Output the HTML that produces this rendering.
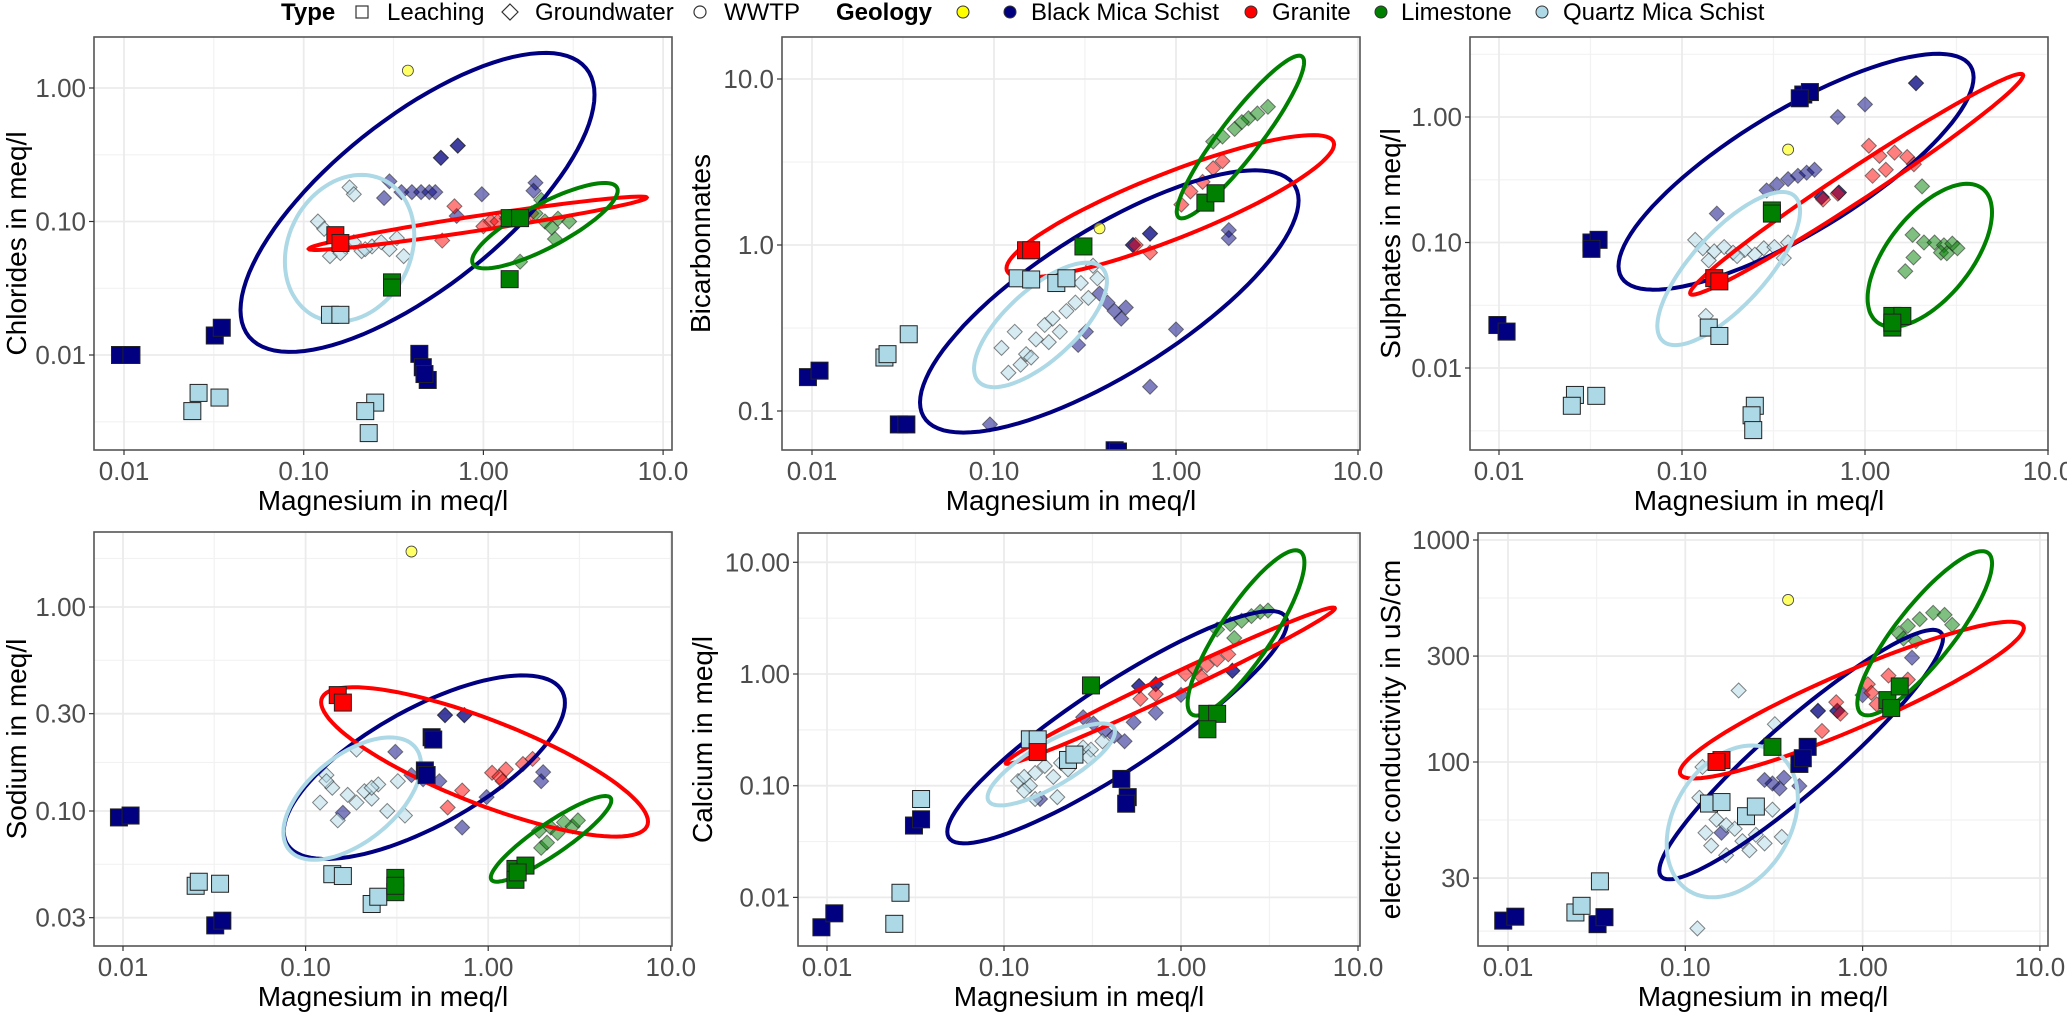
<!DOCTYPE html>
<html><head><meta charset="utf-8"><title>Magnesium scatter panels</title>
<style>
html,body{margin:0;padding:0;background:#fff;}
svg{display:block;font-family:"Liberation Sans",Arial,sans-serif;}
</style></head>
<body>
<svg id="chart" width="2067" height="1012" viewBox="0 0 2067 1012" xmlns="http://www.w3.org/2000/svg">
<rect x="0" y="0" width="2067" height="1012" fill="#fff"/>
<g id="legend" font-size="24" fill="#000">
  <text x="281" y="20" font-weight="bold">Type</text>
  <rect x="356" y="6" width="12" height="12" fill="none" stroke="#333" stroke-width="1.2"/>
  <text x="387" y="20">Leaching</text>
  <path d="M510 4 L518 12 L510 20 L502 12 Z" fill="none" stroke="#333" stroke-width="1.2"/>
  <text x="535" y="20">Groundwater</text>
  <circle cx="700" cy="12" r="6" fill="none" stroke="#333" stroke-width="1.2"/>
  <text x="724" y="20">WWTP</text>
  <text x="836" y="20" font-weight="bold">Geology</text>
  <circle cx="963" cy="12" r="6" fill="#ffff00" stroke="#333"/>
  <circle cx="1010" cy="12" r="6" fill="#000080" stroke="#333"/>
  <text x="1031" y="20">Black Mica Schist</text>
  <circle cx="1251" cy="12" r="6" fill="#ff0000" stroke="#333"/>
  <text x="1272" y="20">Granite</text>
  <circle cx="1381" cy="12" r="6" fill="#008000" stroke="#333"/>
  <text x="1401" y="20">Limestone</text>
  <circle cx="1542" cy="12" r="6" fill="#add8e6" stroke="#333"/>
  <text x="1563" y="20">Quartz Mica Schist</text>
</g>
<g id="panels"></g>
</svg>
<script>
// ---------- shared axis data ----------
const xTicks = [0.01, 0.1, 1, 10];
const xTickLabels = ["0.01", "0.10", "1.00", "10.0"];
const xMinor = [0.0316, 0.316, 3.16];
const ellGeo = ["B", "R", "G", "Q"];

// ---------- Panel 1: Chlorides ----------
const chlYTicks = [0.01, 0.1, 1];
const chlYLabels = ["0.01", "0.10", "1.00"];
const chlYMinor = [0.00316, 0.0316, 0.316];
const chlMg = [0.0095,0.011,0.032,0.035,0.44,0.46,0.49,0.47,
 0.14,0.16,0.026,0.024,0.034,0.25,0.22,0.23,
 0.15,0.16, 0.31,0.31,1.4,1.4,1.6, 0.38,
 0.58,0.58,0.72,0.72,0.35,0.40,0.45,0.50,0.54,0.30,0.28,0.98,0.71,1.95,1.9,
 0.12,0.13,0.15,0.17,0.19,0.21,0.24,0.27,0.30,0.33,0.36,0.14,0.16,0.22,0.18,0.19,
 1.1,1.2,1.35,0.69,0.59,1.85,1.0,
 1.95,2.2,2.6,3.0,2.5,1.6,2.1,2.4];
const chlVal = [0.010,0.010,0.014,0.016,0.0102,0.0081,0.0065,0.0072,
 0.020,0.020,0.0052,0.0038,0.0048,0.0044,0.0038,0.0026,
 0.079,0.069, 0.035,0.032,0.037,0.106,0.106, 1.35,
 0.30,0.30,0.37,0.37,0.166,0.166,0.166,0.166,0.166,0.20,0.15,0.16,0.11,0.195,0.17,
 0.10,0.088,0.075,0.065,0.07,0.06,0.065,0.07,0.062,0.075,0.055,0.055,0.058,0.062,0.18,0.16,
 0.10,0.10,0.105,0.13,0.072,0.115,0.092,
 0.115,0.10,0.105,0.10,0.074,0.05,0.145,0.09];
const chlGrp = ["LB","LB","LB","LB","LB","LB","LB","LB",
 "LQ","LQ","LQ","LQ","LQ","LQ","LQ","LQ",
 "LR","LR","LG","LG","LG","LG","LG","W",
 "GB","GB","GB","GB","GB","GB","GB","GB","GB","GB","GB","GB","GB","GB","GB",
 "GQ","GQ","GQ","GQ","GQ","GQ","GQ","GQ","GQ","GQ","GQ","GQ","GQ","GQ","GQ","GQ",
 "GR","GR","GR","GR","GR","GR","GR",
 "GG","GG","GG","GG","GG","GG","GG","GG"];
const chlEllCx = [0.43, 0.93, 2.2, 0.18];
const chlEllCy = [0.139, 0.097, 0.093, 0.063];
const chlEllSx = [0.985, 0.94, 0.405, 0.36];
const chlEllSy = [1.12, 0.2, 0.32, 0.55];
const chlEllRho = [0.72, 0.96, 0.82, 0.18];

// ---------- Panel 2: Bicarbonates ----------
const bicYTicks = [0.1, 1, 10];
const bicYLabels = ["0.1", "1.0", "10.0"];
const bicYMinor = [0.316, 3.16];
const bicMg = [0.0095,0.011,0.030,0.033,0.46,0.48,
 0.025,0.026,0.034,0.135,0.16,0.22,0.25,
 0.15,0.16, 0.31,1.45,1.65, 0.38,
 0.58,0.58,0.72,0.72,1.95,1.95,
 0.38,0.42,0.46,0.50,0.53,1.0,0.29,0.32,0.72,0.095,
 0.11,0.12,0.13,0.15,0.17,0.19,0.21,0.23,0.25,0.28,0.33,0.37,0.14,0.20,0.30,0.35,0.16,
 1.07,1.2,1.4,1.6,1.8,0.6,0.72,
 1.6,1.8,2.1,2.5,2.8,3.2,2.3];
const bicVal = [0.16,0.175,0.083,0.083,0.058,0.057,
 0.21,0.22,0.29,0.63,0.62,0.59,0.63,
 0.93,0.93, 0.98,1.8,2.05, 1.26,
 1.0,1.0,1.17,1.17,1.23,1.1,
 0.51,0.45,0.40,0.36,0.42,0.31,0.25,0.30,0.14,0.083,
 0.24,0.17,0.30,0.22,0.27,0.33,0.36,0.30,0.40,0.45,0.48,0.63,0.19,0.26,0.59,0.75,0.21,
 1.75,2.1,2.4,2.9,3.2,1.0,0.9,
 4.2,4.5,5.0,5.8,6.2,6.8,5.5];
const bicGrp = ["LB","LB","LB","LB","LB","LB",
 "LQ","LQ","LQ","LQ","LQ","LQ","LQ",
 "LR","LR","LG","LG","LG","W",
 "GB","GB","GB","GB","GB","GB",
 "GB","GB","GB","GB","GB","GB","GB","GB","GB","GB",
 "GQ","GQ","GQ","GQ","GQ","GQ","GQ","GQ","GQ","GQ","GQ","GQ","GQ","GQ","GQ","GQ","GQ",
 "GR","GR","GR","GR","GR","GR","GR",
 "GG","GG","GG","GG","GG","GG","GG"];
const bicEllCx = [0.43, 0.93, 2.26, 0.18];
const bicEllCy = [0.457, 1.71, 4.47, 0.33];
const bicEllSx = [1.04, 0.9, 0.35, 0.365];
const bicEllSy = [0.79, 0.429, 0.49, 0.375];
const bicEllRho = [0.77, 0.87, 0.92, 0.7];

// ---------- Panel 3: Sulphates ----------
const sulYTicks = [0.01, 0.1, 1];
const sulYLabels = ["0.01", "0.10", "1.00"];
const sulYMinor = [0.00316, 0.0316, 0.316, 3.16];
const sulMg = [0.46,0.50,0.44,0.032,0.035,0.032,0.0098,0.011,
 0.14,0.16,0.026,0.025,0.034,0.25,0.24,0.245,
 0.15,0.16, 0.31,0.31,1.41,1.6,1.41,1.41, 0.38,
 1.9,1.9,1.0,0.71,0.29,0.33,0.38,0.43,0.48,0.53,0.58,0.58,0.72,0.72,0.155,
 0.118,0.13,0.15,0.17,0.19,0.22,0.25,0.28,0.32,0.36,0.38,0.135,0.20,0.14,
 1.05,1.2,1.45,1.7,1.85,1.1,1.3,0.59,0.71,
 2.05,1.82,2.1,2.4,2.7,3.0,3.2,2.6,2.8,1.84,1.66];
const sulVal = [1.51,1.58,1.41,0.10,0.105,0.089,0.022,0.0195,
 0.021,0.018,0.0061,0.0050,0.0060,0.0050,0.0042,0.0032,
 0.052,0.049, 0.18,0.17,0.026,0.026,0.021,0.023, 0.55,
 1.86,1.86,1.26,1.0,0.26,0.29,0.32,0.34,0.36,0.38,0.23,0.23,0.25,0.25,0.17,
 0.105,0.09,0.085,0.092,0.083,0.087,0.08,0.09,0.092,0.075,0.1,0.026,0.078,0.072,
 0.59,0.49,0.52,0.48,0.42,0.34,0.38,0.22,0.245,
 0.28,0.115,0.10,0.10,0.095,0.098,0.09,0.083,0.082,0.076,0.059];
const sulGrp = ["LB","LB","LB","LB","LB","LB","LB","LB",
 "LQ","LQ","LQ","LQ","LQ","LQ","LQ","LQ",
 "LR","LR","LG","LG","LG","LG","LG","LG","W",
 "GB","GB","GB","GB","GB","GB","GB","GB","GB","GB","GB","GB","GB","GB","GB",
 "GQ","GQ","GQ","GQ","GQ","GQ","GQ","GQ","GQ","GQ","GQ","GQ","GQ","GQ",
 "GR","GR","GR","GR","GR","GR","GR","GR","GR",
 "GG","GG","GG","GG","GG","GG","GG","GG","GG","GG","GG"];
const sulEllCx = [0.42, 0.90, 2.26, 0.18];
const sulEllCy = [0.366, 0.291, 0.079, 0.062];
const sulEllSx = [0.97, 0.91, 0.34, 0.39];
const sulEllSy = [0.94, 0.88, 0.57, 0.61];
const sulEllRho = [0.8, 0.985, 0.6, 0.75];

// ---------- Panel 4: Sodium ----------
const naYTicks = [0.03, 0.1, 0.3, 1];
const naYLabels = ["0.03", "0.10", "0.30", "1.00"];
const naYMinor = [0.0548, 0.173, 0.548, 1.73];
const naMg = [0.0095,0.011,0.032,0.035,0.49,0.50,0.45,0.46,
 0.025,0.026,0.034,0.14,0.16,0.23,0.25,
 0.15,0.16, 0.31,0.31,0.31,1.41,1.6,1.41,1.45, 0.38,
 0.58,0.58,0.74,0.74,
 0.31,0.38,0.44,0.54,0.98,0.72,2.0,1.95,0.16,
 0.12,0.13,0.14,0.15,0.17,0.19,0.21,0.23,0.25,0.28,0.32,0.35,0.19,0.23,0.13,
 1.05,1.15,1.25,1.55,1.75,0.72,0.6,1.2,
 1.9,2.2,2.6,2.9,3.1,2.4,1.95,2.1];
const naVal = [0.093,0.095,0.0275,0.029,0.23,0.224,0.158,0.15,
 0.043,0.045,0.044,0.049,0.048,0.035,0.038,
 0.37,0.34, 0.047,0.04,0.043,0.052,0.054,0.046,0.05, 1.87,
 0.295,0.295,0.295,0.295,
 0.195,0.15,0.143,0.14,0.117,0.083,0.155,0.14,0.098,
 0.11,0.15,0.13,0.09,0.12,0.11,0.125,0.115,0.135,0.1,0.14,0.095,0.20,0.13,0.14,
 0.154,0.147,0.16,0.17,0.18,0.126,0.104,0.14,
 0.08,0.083,0.088,0.084,0.09,0.078,0.066,0.07];
const naGrp = ["LB","LB","LB","LB","LB","LB","LB","LB",
 "LQ","LQ","LQ","LQ","LQ","LQ","LQ",
 "LR","LR","LG","LG","LG","LG","LG","LG","LG","W",
 "GB","GB","GB","GB",
 "GB","GB","GB","GB","GB","GB","GB","GB","GB",
 "GQ","GQ","GQ","GQ","GQ","GQ","GQ","GQ","GQ","GQ","GQ","GQ","GQ","GQ","GQ",
 "GR","GR","GR","GR","GR","GR","GR","GR",
 "GG","GG","GG","GG","GG","GG","GG","GG"];
const naEllCx = [0.447, 0.955, 2.21, 0.18];
const naEllCy = [0.164, 0.174, 0.073, 0.115];
const naEllSx = [0.77, 0.895, 0.33, 0.377];
const naEllSy = [0.45, 0.366, 0.21, 0.30];
const naEllRho = [0.7, -0.8, 0.9, 0.55];

// ---------- Panel 5: Calcium ----------
const caYTicks = [0.01, 0.1, 1, 10];
const caYLabels = ["0.01", "0.10", "1.00", "10.00"];
const caYMinor = [0.0316, 0.316, 3.16];
const caMg = [0.0093,0.011,0.031,0.034,0.46,0.50,0.49,
 0.034,0.026,0.024,0.14,0.155,0.23,0.25,
 0.155, 0.31,1.41,1.6,1.41,
 0.58,0.58,0.72,0.72,1.95,1.95,0.28,0.32,0.37,0.42,0.48,0.54,1.0,0.72,0.16,
 0.12,0.13,0.14,0.15,0.17,0.19,0.21,0.23,0.25,0.28,0.31,0.36,0.2,0.15,0.3,0.13,
 1.06,1.2,1.4,1.6,1.85,0.59,0.72,1.3,
 1.6,1.9,2.2,2.5,2.8,3.1,2.0];
const caVal = [0.0054,0.0072,0.044,0.05,0.115,0.079,0.069,
 0.076,0.011,0.0058,0.26,0.26,0.17,0.19,
 0.20, 0.79,0.44,0.44,0.32,
 0.78,0.78,0.81,0.81,1.07,1.07,0.41,0.36,0.31,0.28,0.25,0.37,0.65,0.45,0.076,
 0.11,0.12,0.10,0.13,0.15,0.12,0.16,0.14,0.19,0.22,0.21,0.25,0.079,0.076,0.18,0.09,
 1.0,1.1,1.2,1.35,1.5,0.6,0.66,0.95,
 2.5,2.8,3.0,3.3,3.6,3.7,2.1];
const caGrp = ["LB","LB","LB","LB","LB","LB","LB",
 "LQ","LQ","LQ","LQ","LQ","LQ","LQ",
 "LR","LG","LG","LG","LG",
 "GB","GB","GB","GB","GB","GB","GB","GB","GB","GB","GB","GB","GB","GB","GB",
 "GQ","GQ","GQ","GQ","GQ","GQ","GQ","GQ","GQ","GQ","GQ","GQ","GQ","GQ","GQ","GQ",
 "GR","GR","GR","GR","GR","GR","GR","GR",
 "GG","GG","GG","GG","GG","GG","GG"];
const caEllCx = [0.436, 0.87, 2.33, 0.185];
const caEllCy = [0.334, 0.785, 2.33, 0.155];
const caEllSx = [0.96, 0.93, 0.33, 0.36];
const caEllSy = [1.04, 0.70, 0.74, 0.367];
const caEllRho = [0.9, 0.99, 0.85, 0.8];

// ---------- Panel 6: Electric conductivity ----------
const ecYTicks = [30, 100, 300, 1000];
const ecYLabels = ["30", "100", "300", "1000"];
const ecYMinor = [17.3, 54.8, 173, 548];
const ecMg = [0.0094,0.011,0.032,0.035,0.49,0.44,0.46,
 0.033,0.024,0.026,0.136,0.16,0.22,0.25,
 0.16,0.15, 0.31,1.38,1.62,1.45, 0.38,
 0.56,0.56,0.72,0.72,
 0.28,0.31,0.34,0.36,1.9,1.0,0.16,0.44,
 0.12,0.13,0.14,0.15,0.17,0.19,0.21,0.23,0.25,0.28,0.31,0.35,0.20,0.32,0.117,0.17,0.125,
 1.07,1.12,1.2,1.4,1.8,0.71,0.59,0.75,
 1.6,1.8,2.1,2.5,2.9,3.2,2.0,1.7];
const ecVal = [19.3,20.1,18.6,20,117,98,104,
 29,21,22.5,65,66,57,63,
 102,100, 117,190,219,175, 537,
 170,170,170,170,
 83,80,76,85,295,200,48,78,
 69,48,42,55,52,50,44,40,47,43,61,46,210,148,17.8,38,95,
 224,205,182,245,235,186,138,165,
 380,410,440,470,460,415,350,360];
const ecGrp = ["LB","LB","LB","LB","LB","LB","LB",
 "LQ","LQ","LQ","LQ","LQ","LQ","LQ",
 "LR","LR","LG","LG","LG","LG","W",
 "GB","GB","GB","GB",
 "GB","GB","GB","GB","GB","GB","GB","GB",
 "GQ","GQ","GQ","GQ","GQ","GQ","GQ","GQ","GQ","GQ","GQ","GQ","GQ","GQ","GQ","GQ","GQ",
 "GR","GR","GR","GR","GR","GR","GR","GR",
 "GG","GG","GG","GG","GG","GG","GG","GG"];
const ecEllCx = [0.45, 0.87, 2.24, 0.184];
const ecEllCy = [108, 190, 380, 54];
const ecEllSx = [0.80, 0.97, 0.38, 0.37];
const ecEllSy = [0.562, 0.353, 0.37, 0.342];
const ecEllRho = [0.93, 0.92, 0.85, 0.3];

// ---------- layout (pixel geometry, not data) ----------
const NS = "http://www.w3.org/2000/svg";
const geoColor = {B:"#000080", R:"#ff0000", G:"#008000", Q:"#add8e6", W:"#ffff00"};
const geoName = {B:"black-mica", R:"granite", G:"limestone", Q:"quartz-mica", W:"wwtp"};
const layouts = [
 {key:"chlorides", title:"Chlorides in meq/l", L:94,R:672,T:37,B:450, x0:124,xd:179.7, yRefPx:88,yRef:1,yd:133.5, tx:16,
  xs:chlMg, ys:chlVal, grp:chlGrp, yt:chlYTicks, yl:chlYLabels, ym:chlYMinor, ecx:chlEllCx, ecy:chlEllCy, esx:chlEllSx, esy:chlEllSy, erho:chlEllRho},
 {key:"bicarbonates", title:"Bicarbonnates", L:782,R:1360,T:37,B:450, x0:812,xd:182, yRefPx:245,yRef:1,yd:166, tx:700,
  xs:bicMg, ys:bicVal, grp:bicGrp, yt:bicYTicks, yl:bicYLabels, ym:bicYMinor, ecx:bicEllCx, ecy:bicEllCy, esx:bicEllSx, esy:bicEllSy, erho:bicEllRho},
 {key:"sulphates", title:"Sulphates in meq/l", L:1470,R:2048,T:37,B:450, x0:1499,xd:183, yRefPx:117,yRef:1,yd:125.5, tx:1390,
  xs:sulMg, ys:sulVal, grp:sulGrp, yt:sulYTicks, yl:sulYLabels, ym:sulYMinor, ecx:sulEllCx, ecy:sulEllCy, esx:sulEllSx, esy:sulEllSy, erho:sulEllRho},
 {key:"sodium", title:"Sodium in meq/l", L:94,R:672,T:532,B:946, x0:123,xd:182.6, yRefPx:607,yRef:1,yd:204, tx:16,
  xs:naMg, ys:naVal, grp:naGrp, yt:naYTicks, yl:naYLabels, ym:naYMinor, ecx:naEllCx, ecy:naEllCy, esx:naEllSx, esy:naEllSy, erho:naEllRho},
 {key:"calcium", title:"Calcium in meq/l", L:798,R:1360,T:533,B:946, x0:827,xd:177, yRefPx:674,yRef:1,yd:111.7, tx:702,
  xs:caMg, ys:caVal, grp:caGrp, yt:caYTicks, yl:caYLabels, ym:caYMinor, ecx:caEllCx, ecy:caEllCy, esx:caEllSx, esy:caEllSy, erho:caEllRho},
 {key:"conductivity", title:"electric conductivity in uS/cm", L:1478,R:2048,T:533,B:946, x0:1508,xd:177.3, yRefPx:762,yRef:100,yd:222, tx:1390,
  xs:ecMg, ys:ecVal, grp:ecGrp, yt:ecYTicks, yl:ecYLabels, ym:ecYMinor, ecx:ecEllCx, ecy:ecEllCy, esx:ecEllSx, esy:ecEllSy, erho:ecEllRho}
];

function el(tag, parent){ const e=document.createElementNS(NS,tag); parent.appendChild(e); return e; }

const root = document.getElementById("panels");
layouts.forEach(function(p, pi){
  const xScale = v => p.x0 + (Math.log10(v) + 2) * p.xd;
  const yScale = v => p.yRefPx - (Math.log10(v) - Math.log10(p.yRef)) * p.yd;
  const g = el("g", root);
  
  

  const bg = el("rect", g);
  bg.setAttribute("x",p.L); bg.setAttribute("y",p.T); bg.setAttribute("width",p.R-p.L); bg.setAttribute("height",p.B-p.T); bg.setAttribute("fill","#fff");
  
  

  const clip = el("clipPath", g); clip.setAttribute("id","clip"+pi);
  const cr = el("rect", clip); cr.setAttribute("x",p.L); cr.setAttribute("y",p.T); cr.setAttribute("width",p.R-p.L); cr.setAttribute("height",p.B-p.T);

  const grid = el("g", g);
  
  
  grid.setAttribute("clip-path","url(#clip"+pi+")");
  function hline(v, w, c){ const y=yScale(v); if(y<p.T||y>p.B) return; const l=el("line",grid); l.setAttribute("x1",p.L); l.setAttribute("x2",p.R); l.setAttribute("y1",y); l.setAttribute("y2",y); l.setAttribute("stroke",c); l.setAttribute("stroke-width",w); }
  function vline(v, w, c){ const x=xScale(v); if(x<p.L||x>p.R) return; const l=el("line",grid); l.setAttribute("y1",p.T); l.setAttribute("y2",p.B); l.setAttribute("x1",x); l.setAttribute("x2",x); l.setAttribute("stroke",c); l.setAttribute("stroke-width",w); }
  p.ym.forEach(v=>hline(v,1.2,"#f2f2f2"));
  xMinor.forEach(v=>vline(v,1.2,"#f2f2f2"));
  p.yt.forEach(v=>hline(v,1.8,"#ebebeb"));
  xTicks.forEach(v=>vline(v,1.8,"#ebebeb"));

  const marks = el("g", g);
  marks.setAttribute("clip-path","url(#clip"+pi+")");
  
  

  p.xs.forEach(function(xv, i){
    const code = p.grp[i];
    if(code[0] !== "G") return;
    const cx = xScale(xv), cy = yScale(p.ys[i]), r = 7.5;
    const d = el("path", marks);
    d.setAttribute("d","M"+cx+" "+(cy-r)+" L"+(cx+r)+" "+cy+" L"+cx+" "+(cy+r)+" L"+(cx-r)+" "+cy+" Z");
    d.setAttribute("fill", geoColor[code[1]]); d.setAttribute("fill-opacity","0.5");
    d.setAttribute("stroke","#222"); d.setAttribute("stroke-opacity","0.55"); d.setAttribute("stroke-width","1");
    
    
  });

  const ells = el("g", g);
  ells.setAttribute("clip-path","url(#clip"+pi+")");
  
  
  ellGeo.forEach(function(geo, k){
    const lcx = Math.log10(p.ecx[k]), lcy = Math.log10(p.ecy[k]);
    const sx = p.esx[k], sy = p.esy[k], rho = p.erho[k], s = Math.sqrt(1 - rho*rho);
    let d = "";
    for(let t=0; t<=100; t++){
      const a = t/100*2*Math.PI;
      const lx = lcx + sx*Math.cos(a);
      const ly = lcy + sy*(rho*Math.cos(a) + s*Math.sin(a));
      const px = xScale(Math.pow(10,lx)), py = yScale(Math.pow(10,ly));
      d += (t===0?"M":"L") + px.toFixed(1) + " " + py.toFixed(1) + " ";
    }
    const path = el("path", ells);
    path.setAttribute("d", d + "Z");
    path.setAttribute("fill","none"); path.setAttribute("stroke", geoColor[geo]); path.setAttribute("stroke-width","4");
    
    
  });

  const top = el("g", g);
  top.setAttribute("clip-path","url(#clip"+pi+")");
  
  
  p.xs.forEach(function(xv, i){
    const code = p.grp[i];
    const cx = xScale(xv), cy = yScale(p.ys[i]);
    if(code[0] === "L"){
      const r = el("rect", top);
      r.setAttribute("x",cx-8.5); r.setAttribute("y",cy-8.5); r.setAttribute("width",17); r.setAttribute("height",17);
      r.setAttribute("fill", geoColor[code[1]]); r.setAttribute("stroke","#222"); r.setAttribute("stroke-width","1");
      
      
    } else if(code === "W"){
      const c = el("circle", top);
      c.setAttribute("cx",cx); c.setAttribute("cy",cy); c.setAttribute("r",5.5);
      c.setAttribute("fill","#ffff00"); c.setAttribute("fill-opacity","0.6"); c.setAttribute("stroke","#444"); c.setAttribute("stroke-width","0.8");
      
      
    }
  });

  const border = el("rect", g);
  border.setAttribute("x",p.L); border.setAttribute("y",p.T); border.setAttribute("width",p.R-p.L); border.setAttribute("height",p.B-p.T);
  border.setAttribute("fill","none"); border.setAttribute("stroke","#555"); border.setAttribute("stroke-width","1.6");
  
  

  const xa = el("g", g);
  
  
  xTicks.forEach(function(v, i){
    const x = xScale(v);
    const t = el("line", xa); t.setAttribute("x1",x); t.setAttribute("x2",x); t.setAttribute("y1",p.B); t.setAttribute("y2",p.B+5); t.setAttribute("stroke","#333"); t.setAttribute("stroke-width","1.2");
    const tx = el("text", xa); tx.setAttribute("x",x); tx.setAttribute("y",p.B+30); tx.setAttribute("text-anchor","middle"); tx.setAttribute("font-size","26"); tx.setAttribute("fill","#4d4d4d");
    tx.textContent = xTickLabels[i];
    
    
  });
  const xt = el("text", xa); xt.setAttribute("x",(p.L+p.R)/2); xt.setAttribute("y",p.B+60); xt.setAttribute("text-anchor","middle"); xt.setAttribute("font-size","28"); xt.setAttribute("fill","#000");
  xt.textContent = "Magnesium in meq/l";
  
  

  const ya = el("g", g);
  
  
  p.yt.forEach(function(v, i){
    const y = yScale(v);
    const t = el("line", ya); t.setAttribute("x1",p.L-5); t.setAttribute("x2",p.L); t.setAttribute("y1",y); t.setAttribute("y2",y); t.setAttribute("stroke","#333"); t.setAttribute("stroke-width","1.2");
    const tx = el("text", ya); tx.setAttribute("x",p.L-8); tx.setAttribute("y",y+9); tx.setAttribute("text-anchor","end"); tx.setAttribute("font-size","26"); tx.setAttribute("fill","#4d4d4d");
    tx.textContent = p.yl[i];
    
    
  });
  const yt = el("text", ya);
  const my = (p.T+p.B)/2;
  yt.setAttribute("x", p.tx + 10); yt.setAttribute("y", my); yt.setAttribute("text-anchor","middle"); yt.setAttribute("font-size","28"); yt.setAttribute("fill","#000");
  yt.setAttribute("transform","rotate(-90 " + (p.tx+10) + " " + my + ")");
  yt.textContent = p.title;
  
  
});
</script>
</body></html>
